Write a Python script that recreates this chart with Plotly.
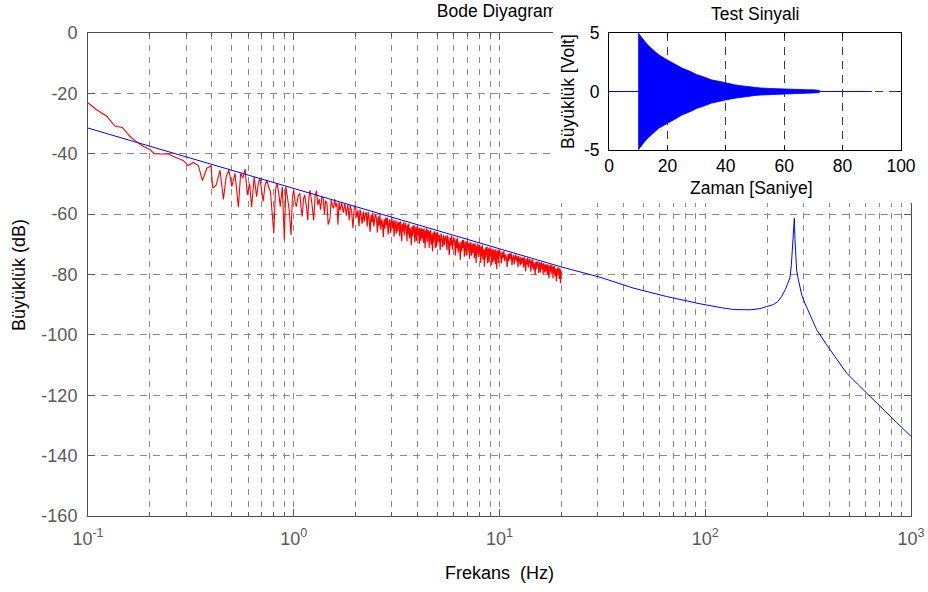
import plotly.graph_objects as go

FONT = "Liberation Sans, Arial, Helvetica, sans-serif"

# ---------------- data: theoretical Bode magnitude (blue) ----------------
blue_freq = [0.1, 1, 10, 20, 30.8, 44.7, 64.9, 94.2, 120, 137, 165, 185, 199, 214, 225,
             235, 245, 252, 258, 262, 266, 269, 271, 273, 275, 278, 282, 286, 295, 305,
             320, 348, 389, 440, 487, 550, 609, 680, 762, 850, 1000]
blue_db = [-31.5, -51.5, -71.5, -77.5, -80.9, -84.5, -87.3, -89.7, -91.0, -91.6, -91.7,
           -91.3, -90.6, -90.0, -89.0, -87.3, -85.0, -83.0, -81.1, -77.0, -70.7, -66.0,
           -61.4, -68.5, -74.0, -78.5, -81.0, -82.9, -87.0, -89.5, -92.8, -98.3, -103.3,
           -108.4, -112.7, -116.3, -119.3, -122.6, -126.0, -129.0, -133.6]

# ---------------- data: experimental Bode magnitude (red), 0.1 - 2 Hz ----------------
red_freq_lo = [
    0.100, 0.110, 0.123, 0.135, 0.147, 0.160, 0.172, 0.186, 0.200, 0.210, 0.225, 0.245,
    0.260, 0.275, 0.290, 0.307, 0.325, 0.344, 0.360, 0.378, 0.396,
    0.404, 0.420, 0.438, 0.455, 0.470, 0.484, 0.500, 0.518, 0.538, 0.552, 0.566, 0.580,
    0.595, 0.610, 0.624, 0.642, 0.660, 0.672, 0.685, 0.710, 0.725, 0.740, 0.755, 0.770,
    0.800, 0.815, 0.830, 0.845, 0.860, 0.880, 0.900, 0.915, 0.930, 0.950, 0.970, 0.985,
    1.000, 1.015, 1.030, 1.050, 1.070, 1.085, 1.100, 1.115, 1.130, 1.150, 1.170, 1.185,
    1.200, 1.225, 1.250, 1.270, 1.290, 1.310, 1.330, 1.350, 1.370, 1.390, 1.410, 1.430,
    1.450, 1.470, 1.500, 1.520, 1.540, 1.560, 1.580, 1.600, 1.620, 1.640, 1.660, 1.680,
    1.710, 1.740, 1.770, 1.800, 1.830, 1.860, 1.880, 1.910, 1.940, 1.970,
]
red_db_lo = [
    -23.1, -25.4, -27.5, -30.8, -31.3, -34.3, -36.0, -37.6, -38.6, -40.0, -40.1, -40.0,
    -40.9, -41.6, -42.2, -43.9, -42.9, -43.9, -48.9, -44.8, -44.0,
    -51.4, -50.3, -45.4, -55.1, -47.5, -45.4, -50.9, -46.5, -57.7, -46.5, -48.0, -45.1,
    -53.6, -49.8, -57.7, -47.7, -54.2, -50.0, -48.1, -55.8, -50.5, -48.7, -51.0, -52.5,
    -66.3, -52.0, -49.8, -53.0, -57.5, -51.0, -68.5, -50.9, -54.0, -58.6, -66.9, -54.5,
    -52.0, -56.0, -57.5, -54.0, -53.1, -57.8, -60.8, -55.0, -53.6, -57.0, -61.9, -54.5,
    -52.0, -56.5, -62.0, -54.0, -52.2, -57.0, -55.0, -58.5, -54.3, -54.7, -60.0, -55.5,
    -56.4, -63.5, -61.5, -55.3, -57.2, -58.1, -55.0, -57.5, -56.4, -63.5, -56.0, -58.8,
    -56.2, -59.5, -56.5, -60.5, -56.8, -62.0, -57.0, -59.0, -64.7, -57.2,
]

# ---------------- data: experimental Bode magnitude (red), 2 - 20 Hz ----------------
red_freq_hi = [
    2.000, 2.025, 2.050, 2.075, 2.100, 2.125, 2.150, 2.175, 2.200, 2.225,
    2.250, 2.275, 2.300, 2.325, 2.350, 2.375, 2.400, 2.425, 2.450, 2.475,
    2.500, 2.525, 2.550, 2.575, 2.600, 2.625, 2.650, 2.675, 2.700, 2.725,
    2.750, 2.775, 2.800, 2.825, 2.850, 2.875, 2.900, 2.925, 2.950, 2.975,
    3.000, 3.025, 3.050, 3.075, 3.100, 3.125, 3.150, 3.175, 3.200, 3.225,
    3.250, 3.275, 3.300, 3.325, 3.350, 3.375, 3.400, 3.425, 3.450, 3.475,
    3.500, 3.525, 3.550, 3.575, 3.600, 3.625, 3.650, 3.675, 3.700, 3.725,
    3.750, 3.775, 3.800, 3.825, 3.850, 3.875, 3.900, 3.925, 3.950, 3.975,
    4.000, 4.025, 4.050, 4.075, 4.100, 4.125, 4.150, 4.175, 4.200, 4.225,
    4.250, 4.275, 4.300, 4.325, 4.350, 4.375, 4.400, 4.425, 4.450, 4.475,
    4.500, 4.525, 4.550, 4.575, 4.600, 4.625, 4.650, 4.675, 4.700, 4.725,
    4.750, 4.775, 4.800, 4.825, 4.850, 4.875, 4.900, 4.925, 4.950, 4.975,
    5.00, 5.05, 5.10, 5.15, 5.20, 5.25, 5.30, 5.35, 5.40, 5.45,
    5.50, 5.55, 5.60, 5.65, 5.70, 5.75, 5.80, 5.85, 5.90, 5.95,
    6.00, 6.05, 6.10, 6.15, 6.20, 6.25, 6.30, 6.35, 6.40, 6.45,
    6.50, 6.55, 6.60, 6.65, 6.70, 6.75, 6.80, 6.85, 6.90, 6.95,
    7.00, 7.05, 7.10, 7.15, 7.20, 7.25, 7.30, 7.35, 7.40, 7.45,
    7.50, 7.55, 7.60, 7.65, 7.70, 7.75, 7.80, 7.85, 7.90, 7.95,
    8.00, 8.05, 8.10, 8.15, 8.20, 8.25, 8.30, 8.35, 8.40, 8.45,
    8.50, 8.55, 8.60, 8.65, 8.70, 8.75, 8.80, 8.85, 8.90, 8.95,
    9.00, 9.05, 9.10, 9.15, 9.20, 9.25, 9.30, 9.35, 9.40, 9.45,
    9.50, 9.55, 9.60, 9.65, 9.70, 9.75, 9.80, 9.85, 9.90, 9.95,
    10.0, 10.1, 10.2, 10.3, 10.4, 10.5, 10.6, 10.7, 10.8, 10.9,
    11.0, 11.1, 11.2, 11.3, 11.4, 11.5, 11.6, 11.7, 11.8, 11.9,
    12.0, 12.1, 12.2, 12.3, 12.4, 12.5, 12.6, 12.7, 12.8, 12.9,
    13.0, 13.1, 13.2, 13.3, 13.4, 13.5, 13.6, 13.7, 13.8, 13.9,
    14.0, 14.1, 14.2, 14.3, 14.4, 14.5, 14.6, 14.7, 14.8, 14.9,
    15.0, 15.1, 15.2, 15.3, 15.4, 15.5, 15.6, 15.7, 15.8, 15.9,
    16.0, 16.1, 16.2, 16.3, 16.4, 16.5, 16.6, 16.7, 16.8, 16.9,
    17.0, 17.1, 17.2, 17.3, 17.4, 17.5, 17.6, 17.7, 17.8, 17.9,
    18.0, 18.1, 18.2, 18.3, 18.4, 18.5, 18.6, 18.7, 18.8, 18.9,
    19.0, 19.1, 19.2, 19.3, 19.4, 19.5, 19.6, 19.7, 19.8, 19.9,
    20.0,
]
red_db_hi = [
    -57.9, -61.1, -58.9, -64.0, -58.5, -60.4, -63.2, -59.1, -62.5, -60.0,
    -59.4, -64.1, -59.2, -61.6, -65.9, -60.1, -62.7, -59.5, -64.1, -61.4,
    -60.1, -61.7, -66.1, -60.7, -63.8, -60.3, -65.2, -61.8, -63.1, -67.6,
    -61.6, -64.8, -61.1, -63.7, -61.1, -66.7, -63.4, -61.7, -66.3, -62.6,
    -61.4, -64.6, -62.4, -67.5, -61.9, -63.8, -66.5, -62.3, -65.7, -63.2,
    -62.6, -67.3, -62.4, -64.7, -69.0, -63.2, -65.7, -62.5, -67.1, -64.3,
    -63.0, -64.6, -69.0, -63.6, -66.6, -63.1, -67.9, -64.6, -65.9, -70.3,
    -64.3, -67.4, -63.8, -66.4, -63.7, -69.3, -65.9, -64.3, -68.8, -65.1,
    -63.9, -67.1, -64.9, -69.9, -64.4, -66.2, -68.9, -64.7, -68.1, -65.5,
    -65.0, -69.6, -64.7, -67.0, -71.3, -65.4, -68.0, -64.7, -69.3, -66.5,
    -65.2, -66.8, -71.2, -65.7, -68.8, -65.2, -70.1, -66.7, -67.9, -72.4,
    -66.3, -69.5, -65.8, -68.4, -65.7, -71.3, -67.9, -66.3, -70.8, -67.0,
    -65.9, -69.1, -66.9, -71.9, -66.4, -68.3, -71.0, -66.9, -70.3, -67.7,
    -67.2, -71.9, -67.0, -69.3, -73.6, -67.8, -70.4, -67.1, -71.7, -69.0,
    -67.7, -69.3, -73.7, -68.3, -71.3, -67.8, -72.7, -69.4, -70.6, -75.1,
    -69.1, -72.2, -68.6, -71.2, -68.5, -74.1, -70.7, -69.1, -73.7, -69.9,
    -68.8, -72.0, -69.7, -74.8, -69.2, -71.1, -73.8, -69.6, -73.0, -70.4,
    -69.9, -74.6, -69.6, -72.0, -76.2, -70.4, -72.9, -69.7, -74.3, -71.5,
    -70.2, -71.8, -76.2, -70.7, -73.8, -70.2, -75.1, -71.7, -73.0, -77.4,
    -71.4, -74.5, -70.9, -73.4, -70.8, -76.3, -73.0, -71.3, -75.9, -72.1,
    -71.0, -74.1, -71.9, -76.9, -71.4, -73.2, -75.9, -71.7, -75.1, -72.5,
    -72.0, -76.6, -71.6, -74.0, -78.2, -72.4, -74.9, -71.7, -76.2, -73.5,
    -71.9, -73.1, -76.3, -72.5, -74.6, -72.2, -75.6, -73.4, -74.3, -77.5,
    -73.2, -75.5, -73.0, -74.8, -73.0, -76.9, -74.6, -73.5, -76.7, -74.1,
    -73.4, -75.7, -74.0, -77.6, -73.8, -75.1, -77.0, -74.2, -76.5, -74.8,
    -74.4, -77.7, -74.3, -76.0, -78.9, -74.9, -76.7, -74.4, -77.7, -75.8,
    -74.8, -76.0, -79.1, -75.3, -77.5, -75.0, -78.4, -76.1, -77.0, -80.2,
    -75.9, -78.2, -75.6, -77.4, -75.7, -79.5, -77.2, -76.0, -79.3, -76.6,
    -75.9, -78.1, -76.5, -80.0, -76.2, -77.6, -79.4, -76.6, -78.9, -77.2,
    -76.7, -80.1, -76.6, -78.3, -81.2, -77.2, -78.9, -76.7, -79.9, -78.0,
    -77.0, -78.2, -81.3, -77.5, -79.6, -77.1, -80.5, -78.2, -79.1, -82.2,
    -78.0, -80.2, -77.7, -79.4, -77.7, -81.5, -79.1, -78.0, -83.0, -78.6,
    -79.6,
]

# ---------------- data: test signal (inset) ----------------
sig_t = [10, 11, 12, 13, 14, 15, 17, 20, 23, 25, 28, 30, 33, 35, 38, 40, 43, 45, 48,
         50, 52, 55, 58, 60, 63, 65, 68, 70, 72]
sig_upper = [5.0, 4.65, 4.35, 4.05, 3.8, 3.6, 3.15, 2.7, 2.3, 2.0, 1.7, 1.45, 1.2, 1.0,
             0.85, 0.72, 0.58, 0.5, 0.4, 0.34, 0.3, 0.26, 0.22, 0.2, 0.18, 0.17, 0.15,
             0.14, 0.1]
sig_lower = [-5.0, -4.65, -4.35, -4.05, -3.8, -3.6, -3.15, -2.7, -2.3, -2.0, -1.7, -1.45,
             -1.2, -1.0, -0.85, -0.72, -0.58, -0.5, -0.4, -0.34, -0.3, -0.26, -0.22, -0.2,
             -0.18, -0.17, -0.15, -0.14, -0.1]
sig_flat_t = [0, 10, None, 72, 90]
sig_flat_v = [0, 0, None, 0, 0]

# ---------------- ticks & labels ----------------
x_major = [0.1, 1, 10, 100, 1000]
x_major_text = ["10<sup>-1</sup>", "10<sup>0</sup>", "10<sup>1</sup>", "10<sup>2</sup>", "10<sup>3</sup>"]
x_minor = [0.2, 0.3, 0.4, 0.5, 0.6, 0.7, 0.8, 0.9,
           2, 3, 4, 5, 6, 7, 8, 9,
           20, 30, 40, 50, 60, 70, 80, 90,
           200, 300, 400, 500, 600, 700, 800, 900]
y_ticks = [-160, -140, -120, -100, -80, -60, -40, -20, 0]
y_tick_text = ["-160", "-140", "-120", "-100", "-80", "-60", "-40", "-20", "0"]
inset_xticks = [0, 20, 40, 60, 80, 100]
inset_yticks = [-5, 0, 5]
inset_ytext = ["-5", "0", "5"]

main_title = "Bode Diyagramı"

W, H = 928, 592
def px_x(p):
    return p / W
def px_y(p):
    return (H - p) / H

fig = go.Figure()

fig.add_trace(go.Scatter(x=red_freq_lo + red_freq_hi[:1], y=red_db_lo + red_db_hi[:1],
                         mode="lines",
                         line=dict(color="#ff0000", width=1.1, simplify=False),
                         xaxis="x", yaxis="y", hoverinfo="skip"))
fig.add_trace(go.Scatter(x=red_freq_hi, y=red_db_hi, mode="lines",
                         line=dict(color="#ff0000", width=1.2, simplify=False),
                         xaxis="x", yaxis="y", hoverinfo="skip"))
fig.add_trace(go.Scatter(x=blue_freq, y=blue_db, mode="lines",
                         line=dict(color="#0000ff", width=1),
                         xaxis="x", yaxis="y", hoverinfo="skip"))
# main title drawn in a strip above the main plot, so the inset panel hides its end
fig.add_trace(go.Scatter(x=[0.5], y=[19 / 32], mode="text", text=[main_title],
                         textfont=dict(family=FONT, size=17.5, color="black"),
                         xaxis="x2", yaxis="y2", hoverinfo="skip"))
# white panel behind the inset (covers grid, frame and title end of main plot)
fig.add_trace(go.Scatter(x=[], y=[], xaxis="x3", yaxis="y3", hoverinfo="skip"))
# inset signal
fig.add_trace(go.Scatter(x=sig_t + sig_t[::-1], y=sig_upper + sig_lower[::-1],
                         mode="lines", fill="toself", fillcolor="#0000ff",
                         line=dict(color="#0000ff", width=0.8),
                         xaxis="x4", yaxis="y4", hoverinfo="skip"))
fig.add_trace(go.Scatter(x=sig_flat_t, y=sig_flat_v, mode="lines",
                         line=dict(color="#0000ff", width=1),
                         xaxis="x4", yaxis="y4", hoverinfo="skip"))

grey = "#595959"
gridc = "#8a8a8a"
fig.update_layout(
    width=W, height=H, margin=dict(l=0, r=0, t=0, b=0, autoexpand=False),
    paper_bgcolor="white", plot_bgcolor="white", showlegend=False,
    font=dict(family=FONT, size=17, color="black"),
    xaxis=dict(type="log", range=[-1, 3], domain=[px_x(88), px_x(911)], anchor="y",
               automargin=False,
               tickmode="array", tickvals=x_major, ticktext=x_major_text,
               ticks="inside", ticklen=7, tickcolor=grey, tickwidth=1,
               showline=True, linecolor="#4d4d4d", linewidth=1, mirror="ticks",
               showgrid=True, gridcolor=gridc, griddash="6px,6px", gridwidth=1,
               minor=dict(tickmode="array", tickvals=x_minor, ticks="inside", ticklen=4,
                          tickcolor=grey, showgrid=True, gridcolor=gridc,
                          griddash="6px,6px", gridwidth=1),
               tickfont=dict(family=FONT, size=18, color=grey),
               ticklabelstandoff=6, zeroline=False),
    yaxis=dict(range=[-160, 0], domain=[px_y(516), px_y(33)], anchor="x",
               automargin=False,
               tickmode="array", tickvals=y_ticks, ticktext=y_tick_text,
               ticks="inside", ticklen=7, tickcolor=grey,
               showline=True, linecolor="#4d4d4d", linewidth=1, mirror="ticks",
               showgrid=True, gridcolor=gridc, griddash="7px,6px", gridwidth=1,
               tickfont=dict(family=FONT, size=18, color=grey),
               ticklabelstandoff=6, zeroline=False),
    xaxis2=dict(domain=[px_x(88), px_x(911)], anchor="y2", visible=False, range=[0, 1],
                automargin=False),
    yaxis2=dict(domain=[px_y(32), 1.0], anchor="x2", visible=False, range=[0, 1],
                automargin=False),
    xaxis3=dict(domain=[px_x(553), 1.0], anchor="y3", visible=False, range=[0, 1],
                automargin=False),
    yaxis3=dict(domain=[px_y(203), 1.0], anchor="x3", visible=False, range=[0, 1],
                automargin=False),
    xaxis4=dict(range=[0, 100], domain=[px_x(609), px_x(901)], anchor="y4",
                automargin=False,
                tickmode="array", tickvals=inset_xticks,
                ticks="inside", ticklen=4, tickcolor="black",
                showline=True, linecolor="black", linewidth=1, mirror="ticks",
                showgrid=True, gridcolor="#3a3a3a", griddash="8px,6px", gridwidth=1,
                tickfont=dict(family=FONT, size=17.5, color="black"),
                ticklabelstandoff=0, zeroline=False),
    yaxis4=dict(range=[-5, 5], domain=[px_y(150), px_y(33)], anchor="x4",
                automargin=False,
                tickmode="array", tickvals=inset_yticks, ticktext=inset_ytext,
                ticks="inside", ticklen=4, tickcolor="black",
                showline=True, linecolor="black", linewidth=1, mirror="ticks",
                showgrid=True, gridcolor="#3a3a3a", griddash="8px,6px", gridwidth=1,
                tickfont=dict(family=FONT, size=17.5, color="black"),
                ticklabelstandoff=5, zeroline=False),
    annotations=[
        dict(text="Frekans\u00a0 (Hz)", xref="paper", yref="paper", x=px_x(499), y=px_y(573),
             showarrow=False, font=dict(family=FONT, size=18, color="black"),
             xanchor="center", yanchor="middle"),
        dict(text="Büyüklük (dB)", xref="paper", yref="paper", x=px_x(19), y=px_y(275),
             showarrow=False, textangle=-90, font=dict(family=FONT, size=18, color="black"),
             xanchor="center", yanchor="middle"),
        dict(text="Test Sinyali", xref="paper", yref="paper", x=px_x(755), y=px_y(14),
             showarrow=False, font=dict(family=FONT, size=17.5, color="black"),
             xanchor="center", yanchor="middle"),
        dict(text="Zaman [Saniye]", xref="paper", yref="paper", x=px_x(751), y=px_y(188),
             showarrow=False, font=dict(family=FONT, size=17.5, color="black"),
             xanchor="center", yanchor="middle"),
        dict(text="Büyüklük [Volt]", xref="paper", yref="paper", x=px_x(568), y=px_y(92),
             showarrow=False, textangle=-90, font=dict(family=FONT, size=17.5, color="black"),
             xanchor="center", yanchor="middle"),
    ],
)

fig.write_html("out.html", config={"displayModeBar": False},
               post_script="document.body.style.margin='0';document.body.style.overflow='hidden';")
